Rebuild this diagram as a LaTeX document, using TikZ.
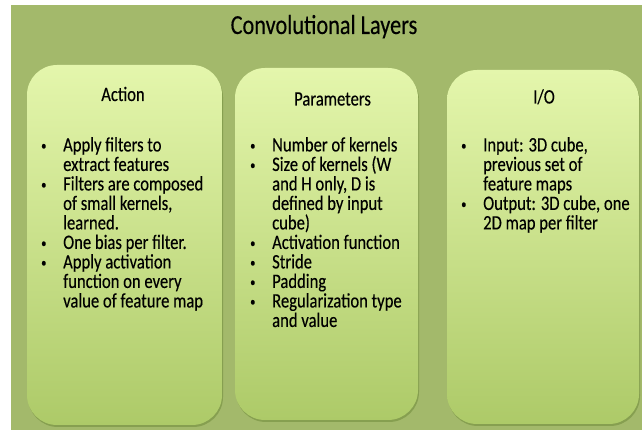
\documentclass[tikz,border=0pt]{standalone}
\usepackage{fontspec}
\setmainfont{Carlito}[FakeStretch=0.81, FakeBold=0.25]
\usetikzlibrary{shadows}

\definecolor{slide}{HTML}{A3B96B}
\definecolor{paneltop}{HTML}{E4F6AC}
\definecolor{panelbot}{HTML}{ADCA68}
\definecolor{shade}{HTML}{6F8A3A}

% list lines at a fixed pitch: \firstline starts an item, \moreline continues it
\newcommand{\dotmark}{\raisebox{1.5pt}{\fontsize{13}{13}\selectfont\textbullet}}
\newcommand{\firstline}[1]{\hbox{\makebox[27pt][l]{\hspace*{5pt}\dotmark}#1}}
\newcommand{\moreline}[1]{\hbox{\kern27pt #1}}
\newcommand{\itemlist}[1]{\vbox{\baselineskip=19.5pt\lineskiplimit=-100pt\lineskip=0pt #1}}

\tikzset{
  panel/.style={rounded corners=30pt, top color=paneltop, bottom color=panelbot,
    draw=none, inner sep=0pt,
    drop shadow={shadow xshift=1pt, shadow yshift=-2pt, opacity=.55, fill=shade}},
  heading/.style={font=\fontsize{20.5}{19.5}\selectfont, inner sep=0pt, anchor=base},
  bullets/.style={font=\fontsize{20.5}{19.5}\selectfont, inner sep=0pt, anchor=north west},
  title/.style={font=\fontsize{27.5}{30}\selectfont, inner sep=0pt, anchor=base}
}

\begin{document}
\begin{tikzpicture}[x=1pt,y=1pt]
\useasboundingbox (0,0) rectangle (642,430);
\fill[white] (0,0) rectangle (642,430);
\fill[slide] (11,0) rectangle (642,425);

\node[title] (ttl) at (324,396) {Convolutional Layers};

% three panels
\node[panel, minimum width=195pt, minimum height=360pt] (act) at (124.5,185) {};
\node[panel, minimum width=183pt, minimum height=352pt] (par) at (326.5,186) {};
\node[panel, minimum width=192pt, minimum height=354pt] (io)  at (543,183) {};

\node[heading] (hact) at (123,329) {Action};
\node[heading] (hpar) at (332.5,324.5) {Parameters};
\node[heading] (hio)  at (544,326.5) {I/O};

\node[bullets] (lact) at (36,293) {\itemlist{%
  \firstline{Apply filters to}
  \moreline{extract features}
  \firstline{Filters are composed}
  \moreline{of small kernels,}
  \moreline{learned.}
  \firstline{One bias per filter.}
  \firstline{Apply activation}
  \moreline{function on every}
  \moreline{value of feature map}}};

\node[bullets] (lpar) at (245,293) {\itemlist{%
  \firstline{Number of kernels}
  \firstline{Size of kernels (W}
  \moreline{and H only, D is}
  \moreline{defined by input}
  \moreline{cube)}
  \firstline{Activation function}
  \firstline{Stride}
  \firstline{Padding}
  \firstline{Regularization type}
  \moreline{and value}}};

\node[bullets] (lio) at (456,293) {\itemlist{%
  \firstline{Input: 3D cube,}
  \moreline{previous set of}
  \moreline{feature maps}
  \firstline{Output: 3D cube, one}
  \moreline{2D map per filter}}};
\end{tikzpicture}
\end{document}
